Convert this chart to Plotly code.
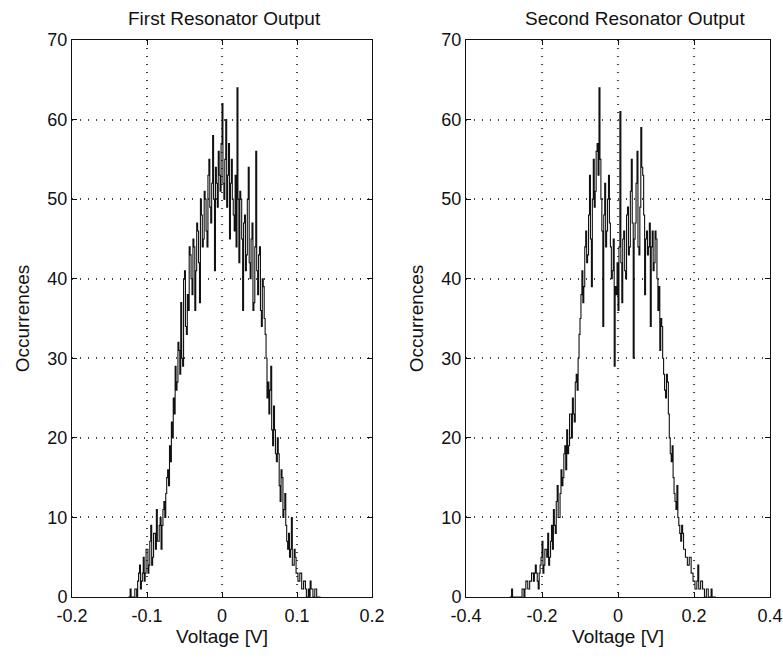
import plotly.graph_objects as go

# ---- data: first resonator histogram (bin start in V, bin width, counts) ----
left_start = -0.125
left_width = 0.00125
left_counts = [
    0, 0, 1, 0, 0, 0, 0, 1, 1, 0, 2, 3, 4, 1, 2, 3, 5, 2, 3, 6,
    6, 3, 4, 7, 9, 4, 5, 8, 8, 6, 11, 7, 7, 9, 10, 6, 9, 11, 12, 10,
    13, 15, 16, 14, 19, 17, 22, 20, 25, 23, 29, 26, 27, 32, 31, 28, 37, 30, 29, 40,
    41, 34, 33, 38, 36, 44, 43, 40, 38, 45, 44, 36, 41, 47, 46, 42, 37, 50, 48, 44,
    45, 51, 50, 46, 44, 53, 55, 49, 47, 52, 58, 50, 41, 54, 52, 49, 56, 53, 51, 57,
    62, 52, 50, 55, 60, 49, 53, 57, 45, 52, 55, 50, 48, 46, 53, 44, 64, 50, 42, 51,
    50, 45, 36, 47, 48, 41, 43, 50, 54, 42, 40, 45, 47, 36, 37, 44, 56, 41, 38, 43,
    44, 36, 34, 40, 39, 35, 33, 30, 25, 27, 23, 26, 29, 21, 19, 24, 21, 18, 17, 20,
    18, 14, 12, 16, 15, 10, 11, 13, 9, 7, 6, 8, 5, 6, 10, 4, 4, 6, 5, 3,
    3, 2, 2, 3, 3, 1, 1, 2, 2, 1, 0, 0, 1, 0, 2, 1, 1, 0, 0, 1,
    1, 0, 0, 0, 0, 0,
]

# ---- data: second resonator histogram ----
right_start = -0.285
right_width = 0.0025
right_counts = [
    0, 0, 1, 0, 0, 0, 0, 0, 0, 0, 0, 0, 0, 1, 1, 0, 1, 2, 2, 1,
    1, 2, 2, 3, 3, 2, 3, 4, 3, 2, 1, 3, 4, 5, 7, 3, 4, 6, 6, 5,
    8, 4, 5, 7, 9, 6, 11, 9, 8, 12, 14, 10, 10, 13, 16, 14, 15, 18, 19, 16,
    21, 18, 19, 23, 23, 20, 25, 23, 22, 27, 28, 26, 30, 33, 35, 38, 41, 37, 39, 44,
    46, 42, 43, 48, 53, 45, 39, 50, 55, 49, 51, 56, 57, 53, 64, 55, 50, 46, 34, 48,
    52, 44, 46, 50, 53, 47, 44, 40, 41, 45, 29, 39, 38, 42, 36, 44, 61, 42, 37, 45,
    46, 41, 40, 48, 49, 43, 44, 51, 55, 47, 30, 45, 47, 52, 56, 44, 43, 49, 59, 54,
    53, 48, 38, 45, 46, 43, 44, 47, 34, 44, 46, 41, 42, 46, 45, 40, 36, 39, 31, 35,
    34, 30, 28, 26, 25, 28, 27, 23, 20, 18, 17, 19, 15, 13, 12, 11, 14, 10, 9, 8,
    7, 9, 8, 6, 6, 5, 5, 4, 4, 5, 5, 3, 3, 2, 2, 1, 1, 2, 4, 1,
    1, 2, 2, 1, 1, 0, 0, 1, 1, 0, 0, 0, 1, 0, 0, 0, 0, 0,
]

left_x = [left_start + i * left_width for i in range(len(left_counts))]
right_x = [right_start + i * right_width for i in range(len(right_counts))]

titles = ["First Resonator Output", "Second Resonator Output"]
y_ticks = [0, 10, 20, 30, 40, 50, 60, 70]
left_ticks = [-0.2, -0.1, 0, 0.1, 0.2]
left_labels = ["-0.2", "-0.1", "0", "0.1", "0.2"]
right_ticks = [-0.4, -0.2, 0, 0.2, 0.4]
right_labels = ["-0.4", "-0.2", "0", "0.2", "0.4"]

W, H = 783, 658
FONT = "Liberation Sans, Arial, sans-serif"
INK = "#111111"

fig = go.Figure()
fig.add_trace(go.Scatter(x=left_x, y=left_counts, mode="lines",
                         line=dict(shape="hv", color=INK, width=1.1),
                         xaxis="x", yaxis="y", showlegend=False))
fig.add_trace(go.Scatter(x=right_x, y=right_counts, mode="lines",
                         line=dict(shape="hv", color=INK, width=1.1),
                         xaxis="x2", yaxis="y2", showlegend=False))

axis_common = dict(
    showline=True, linecolor=INK, linewidth=1, mirror="ticks",
    ticks="inside", ticklen=5, tickcolor=INK,
    showgrid=True, gridcolor="#444", griddash="1px,7px", gridwidth=1.5,
    zeroline=False, automargin=False,
    tickfont=dict(family=FONT, size=18, color=INK),
)
x_extra = dict(ticklabelstandoff=2,
               title=dict(text="Voltage [V]", font=dict(size=19), standoff=5))
y_extra = dict(title=dict(text="Occurrences", font=dict(size=19), standoff=12))

fig.update_layout(
    width=W, height=H,
    paper_bgcolor="white", plot_bgcolor="white",
    margin=dict(l=0, r=0, t=40, b=61),
    font=dict(family=FONT, color=INK),
    xaxis=dict(domain=[72 / W, 372 / W], range=[-0.2, 0.2],
               tickvals=left_ticks, ticktext=left_labels,
               anchor="y", **x_extra, **axis_common),
    yaxis=dict(domain=[0, 1], range=[0, 70], tickvals=y_ticks,
               anchor="x", **y_extra, **axis_common),
    xaxis2=dict(domain=[466 / W, 770 / W], range=[-0.4, 0.4],
                tickvals=right_ticks, ticktext=right_labels,
                anchor="y2", **x_extra, **axis_common),
    yaxis2=dict(domain=[0, 1], range=[0, 70], tickvals=y_ticks,
                anchor="x2", **y_extra, **axis_common),
    annotations=[
        dict(text=titles[0], x=224 / W, y=1, xref="paper", yref="paper",
             xanchor="center", yanchor="middle", yshift=22, showarrow=False,
             font=dict(family=FONT, size=19, color=INK)),
        dict(text=titles[1], x=635 / W, y=1, xref="paper", yref="paper",
             xanchor="center", yanchor="middle", yshift=22, showarrow=False,
             font=dict(family=FONT, size=19, color=INK)),
    ],
)

fig.write_html("out.html")
